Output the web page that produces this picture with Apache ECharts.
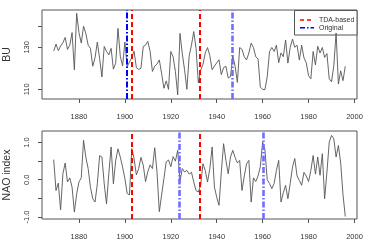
<!DOCTYPE html>
<html><head><meta charset="utf-8">
<script src="https://cdn.jsdelivr.net/npm/echarts@6/dist/echarts.min.js"></script>
<style>html,body{margin:0;padding:0;background:#fff}#c{width:379px;height:241px}</style>
</head><body><div id="c"></div>
<script>
const years = [1869,1870,1871,1872,1873,1874,1875,1876,1877,1878,
1879,1880,1881,1882,1883,1884,1885,1886,1887,1888,
1889,1890,1891,1892,1893,1894,1895,1896,1897,1898,
1899,1900,1901,1902,1903,1904,1905,1906,1907,1908,
1909,1910,1911,1912,1913,1914,1915,1916,1917,1918,
1919,1920,1921,1922,1923,1924,1925,1926,1927,1928,
1929,1930,1931,1932,1933,1934,1935,1936,1937,1938,
1939,1940,1941,1942,1943,1944,1945,1946,1947,1948,
1949,1950,1951,1952,1953,1954,1955,1956,1957,1958,
1959,1960,1961,1962,1963,1964,1965,1966,1967,1968,
1969,1970,1971,1972,1973,1974,1975,1976,1977,1978,
1979,1980,1981,1982,1983,1984,1985,1986,1987,1988,
1989,1990,1991,1992,1993,1994,1995,1996];

const buValues = [128.2,131.5,128.4,130.6,132.2,134.7,129,131,137,119.3,
146.2,137,132,140,136.6,131,129.5,121,125,132.5,
124.6,115.9,130.4,128,126.4,129.5,119.6,122.4,139,125.8,
121.1,132.5,120.8,123,125,128.2,120.3,119.5,120,130.4,
131,132.8,128,118.5,121,122,124,117.5,110.5,114,
110,128,125.5,118.5,107.3,136.6,127,119.3,110,125.8,
131,137.5,129.5,113,119,121.8,127.3,129.9,126,119.3,
121,122.6,124.1,117,120.3,121,115.4,116,126,121,
113.3,129.9,129,125.5,124,127.3,132,129.9,125.5,124.5,
111,110,109.8,116,128,129.9,128,131,122.7,127.3,
125.5,133.5,122.5,129.9,133.9,130,131,123.9,131,125,
122.6,116.5,115,128,121.6,130.5,127.3,129.9,125.2,127,
115,113.6,121.2,136.8,112.5,118.8,114.1,121];

const naoValues = [0.54,-0.29,-0.09,-0.81,0.16,0.45,-0.06,0.05,-0.2,-0.87,
-0.38,-0.06,0.05,1.06,0.6,0.3,-0.2,-0.51,-0.6,-0.11,
0.65,0.61,-0.11,-0.65,0.16,0.88,-0.11,0.52,0.83,0.61,
0.34,0.03,-0.37,-0.41,0.84,0.57,0.13,0.3,0.6,0.39,
-0.05,0.22,0.4,0.3,0.86,0.2,-0.86,-0.41,0.03,0.48,
0.53,0.35,0.62,0.5,0.79,-0.05,0.3,0.21,0.25,0.15,
0.2,-0.06,-0.29,-0.33,-0.15,0.43,0.25,-0.06,0.3,0.88,
-0.2,-0.47,-0.69,0.2,0.97,0.52,0.16,0.61,0.79,0.6,
0.45,0.52,-0.29,0.1,0.43,0.52,-0.6,0.05,-0.05,0.1,
0.35,1.01,0.8,0.0,-0.1,-0.24,-0.1,0.25,0.52,-0.6,
-0.35,-0.15,-0.51,-0.1,0.34,0.57,0.1,-0.02,-0.15,0.2,
0.1,-0.05,0.25,0.65,0.15,0.61,0.12,0.7,-0.51,0.2,
1.01,1.19,1.1,0.61,0.92,0.45,-0.4,-0.99];

const xTicks = [1880,1900,1920,1940,1960,1980,2000];
const buTicks = [110,120,130,140];
const buLabels = [110,130];
const naoTicks = [-1.0,-0.5,0.0,0.5,1.0];
const naoLabels = [-1.0,0.0,1.0];

const buRedBreaks = [1902.8,1932.6];
const buBlueBreaks = [1901.0,1946.8];
const naoRedBreaks = [1902.8,1932.6];
const naoBlueBreaks = [1923.8,1960.1];

const legendNames = ['TDA-based','Original'];

const RED = '#ff0000', BLUE = '#0000ff', BLUE_LIGHT = '#6f6fff';
const redStyle = {color:RED, width:2, type:[5,3]};
const FONT = 'Liberation Sans, Arial, sans-serif';

function pairs(vals){ return years.map((y,i)=>[y, vals[i]]); }
function marks(red, blue){
  return red.map(v=>({xAxis:v, label:{show:false}, lineStyle:redStyle}))
    .concat(blue.map(v=>({xAxis:v, label:{show:false}, lineStyle:{color:(v<1910?BLUE:BLUE_LIGHT), width:(v<1910?2:2.6), type:[6,2,1.5,2]}})));
}
function markLineOpt(red, blue){
  return {silent:true, symbol:['none','none'], symbolSize:0, label:{show:false}, emphasis:{disabled:true, label:{show:false}},
    animation:false, data:marks(red, blue)};
}

const xAxisBase = (gi)=>({
  type:'value', gridIndex:gi, min:1863.9, max:2001.1,
  axisLine:{show:false, onZero:false}, splitLine:{show:false},
  axisTick:{show:true, length:4, lineStyle:{color:'#555'}, customValues:xTicks},
  axisLabel:{fontSize:7.5, color:'#333', fontFamily:FONT, margin:14, customValues:xTicks,
    formatter:(v)=>String(Math.round(v))}
});
const yAxisBase = (gi, mn, mx, ticks, labels, name)=>({
  type:'value', gridIndex:gi, min:mn, max:mx,
  name:name, nameLocation:'middle', nameRotate:90, nameGap:29,
  nameTextStyle:{fontSize:10.5, color:'#333', fontFamily:FONT},
  axisLine:{show:false, onZero:false}, splitLine:{show:false},
  axisTick:{show:true, length:4, lineStyle:{color:'#555'}, customValues:ticks},
  axisLabel:{fontSize:7.5, color:'#333', fontFamily:FONT, rotate:90, margin:11, customValues:labels,
    formatter:(v)=> (Math.abs(v)>=10 ? String(Math.round(v)) : Number(v).toFixed(1))}
});

const chart = echarts.init(document.getElementById('c'), null, {renderer:'canvas'});
chart.setOption({
  animation:false,
  backgroundColor:'#fff',
  grid:[
    {left:42, right:22, top:10, height:89, show:true, borderColor:'#555', borderWidth:1, backgroundColor:'transparent',
      containLabel:false, outerBoundsMode:'none'},
    {left:42, right:22, top:131, height:88, show:true, borderColor:'#555', borderWidth:1, backgroundColor:'transparent',
      containLabel:false, outerBoundsMode:'none'}
  ],
  xAxis:[xAxisBase(0), xAxisBase(1)],
  yAxis:[
    yAxisBase(0, 105.38, 147.76, buTicks, buLabels, 'BU'),
    yAxisBase(1, -1.056, 1.31, naoTicks, naoLabels, 'NAO index')
  ],
  series:[
    {type:'line', xAxisIndex:0, yAxisIndex:0, data:pairs(buValues), showSymbol:false, symbol:'none',
      lineStyle:{color:'#555', width:0.9}, z:3, markLine:markLineOpt(buRedBreaks, buBlueBreaks)},
    {type:'line', xAxisIndex:1, yAxisIndex:1, data:pairs(naoValues), showSymbol:false, symbol:'none',
      lineStyle:{color:'#555', width:0.9}, z:3, markLine:markLineOpt(naoRedBreaks, naoBlueBreaks)}
  ],
  graphic:[
    {type:'group', z:100, children:[
      {type:'rect', shape:{x:294.5, y:10.5, width:62.5, height:24.5}, style:{fill:'#fff', stroke:'#555', lineWidth:1}},
      {type:'line', shape:{x1:300, y1:20, x2:314, y2:20}, style:{stroke:RED, lineWidth:1.5, lineDash:[4,3]}},
      {type:'line', shape:{x1:300, y1:27.7, x2:314, y2:27.7}, style:{stroke:BLUE, lineWidth:1.5, lineDash:[5,2,1.5,2]}},
      {type:'text', style:{x:319, y:20, text:legendNames[0], font:'7px '+FONT, fill:'#333', verticalAlign:'middle'}},
      {type:'text', style:{x:319, y:27.7, text:legendNames[1], font:'7px '+FONT, fill:'#333', verticalAlign:'middle'}}
    ]}
  ]
});
</script></body></html>
